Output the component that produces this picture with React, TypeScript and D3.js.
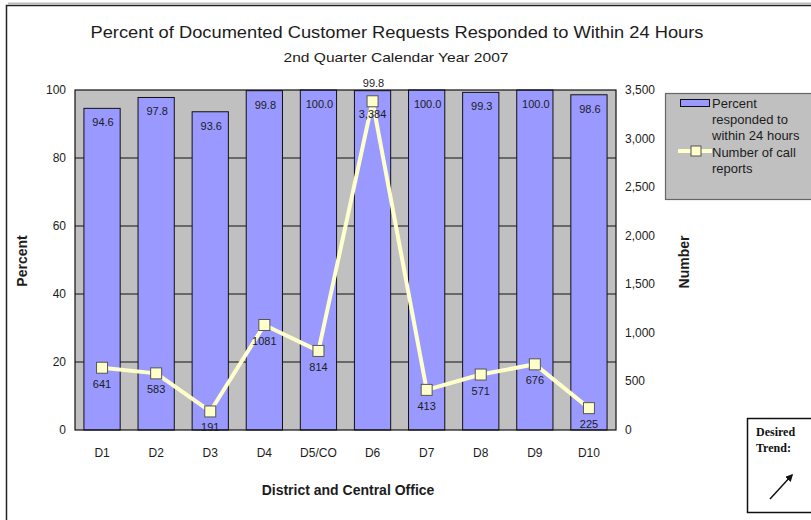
import * as d3 from 'd3';

const districts = ['D1', 'D2', 'D3', 'D4', 'D5/CO', 'D6', 'D7', 'D8', 'D9', 'D10'];
const percentResponded = [94.6, 97.8, 93.6, 99.8, 100.0, 99.8, 100.0, 99.3, 100.0, 98.6];
const callReports = [641, 583, 191, 1081, 814, 3384, 413, 571, 676, 225];
const callLabels = ['641', '583', '191', '1081', '814', '3,384', '413', '571', '676', '225'];
const percentTicks = [0, 20, 40, 60, 80, 100];
const numberTicks = [0, 500, 1000, 1500, 2000, 2500, 3000, 3500];

const W = 811;
const H = 520;
const plot = { left: 75, right: 616, top: 90, bottom: 430 };
const font = '"Liberation Sans", Arial, sans-serif';
const ink = '#1c1c1c';

export default function App() {
  const x = d3.scaleBand<string>()
    .domain(districts)
    .range([plot.left, plot.right])
    .paddingInner(0.33)
    .paddingOuter(0.165);
  const yPct = d3.scaleLinear().domain([0, 100]).range([plot.bottom, plot.top]);
  const yNum = d3.scaleLinear().domain([0, 3500]).range([plot.bottom, plot.top]);
  const cx = (d: string) => (x(d) ?? 0) + x.bandwidth() / 2;

  const line = d3.line<number>()
    .x((_, i) => cx(districts[i]))
    .y((v) => yNum(v));

  const fmt = d3.format(',');

  return (
    <svg width={W} height={H} style={{ display: 'block', position: 'absolute', left: 0, top: 0 }}>
      <rect x={0} y={0} width={W} height={H} fill="#ffffff" />
      {/* outer frame */}
      <rect x={6.5} y={5.5} width={W + 20} height={H + 20} fill="none" stroke="#222" strokeWidth={1.5} />
      <line x1={8} y1={3.5} x2={W} y2={3.5} stroke="#bbb" strokeWidth={2} />

      {/* titles */}
      <text x={397} y={38} textAnchor="middle" fontFamily={font} fontSize={17} fill={ink}
        textLength={613} lengthAdjust="spacingAndGlyphs">
        Percent of Documented Customer Requests Responded to Within 24 Hours
      </text>
      <text x={396} y={62} textAnchor="middle" fontFamily={font} fontSize={13} fill={ink}
        textLength={225} lengthAdjust="spacingAndGlyphs">
        2nd Quarter Calendar Year 2007
      </text>

      {/* plot area */}
      <rect x={plot.left} y={plot.top} width={plot.right - plot.left} height={plot.bottom - plot.top}
        fill="#c0c0c0" />
      {percentTicks.slice(1, -1).map((t) => (
        <line key={t} x1={plot.left} x2={plot.right} y1={yPct(t)} y2={yPct(t)} stroke="#111" strokeWidth={1} />
      ))}

      {/* bars */}
      {districts.map((d, i) => (
        <rect key={d} x={x(d)} y={yPct(percentResponded[i])} width={x.bandwidth()}
          height={plot.bottom - yPct(percentResponded[i])} fill="#9999ff" stroke="#111" strokeWidth={1} />
      ))}
      <rect x={plot.left} y={plot.top} width={plot.right - plot.left} height={plot.bottom - plot.top}
        fill="none" stroke="#111" strokeWidth={1.2} />

      {/* bar labels */}
      {districts.map((d, i) => {
        const above = i === 5;
        return (
          <text key={d} x={cx(d) + 1} y={above ? yPct(percentResponded[i]) - 4 : yPct(percentResponded[i]) + 18}
            textAnchor="middle" fontFamily={font} fontSize={11} fill={ink}>
            {percentResponded[i].toFixed(1)}
          </text>
        );
      })}

      {/* call report line */}
      <path d={line(callReports) ?? ''} fill="none" stroke="#ffffcc" strokeWidth={4} strokeLinejoin="round" />
      {districts.map((d, i) => (
        <rect key={d} x={cx(d) - 5.5} y={yNum(callReports[i]) - 5.5} width={11} height={11}
          fill="#ffffcc" stroke="#555" strokeWidth={1} />
      ))}
      {districts.map((d, i) => (
        <text key={d} x={cx(d)} y={yNum(callReports[i]) + (i === 5 ? 17 : 20)} textAnchor="middle"
          fontFamily={font} fontSize={11} fill={ink}>
          {callLabels[i]}
        </text>
      ))}

      {/* left axis */}
      {percentTicks.map((t) => (
        <text key={t} x={66} y={yPct(t) + 4} textAnchor="end" fontFamily={font} fontSize={12} fill={ink}>
          {t}
        </text>
      ))}
      <text transform={`translate(27,261) rotate(-90)`} textAnchor="middle" fontFamily={font}
        fontSize={14} fontWeight="bold" fill={ink}>
        Percent
      </text>

      {/* right axis */}
      {numberTicks.map((t) => (
        <text key={t} x={625} y={yNum(t) + 4} textAnchor="start" fontFamily={font} fontSize={12} fill={ink}>
          {fmt(t)}
        </text>
      ))}
      <text transform={`translate(689,262) rotate(-90)`} textAnchor="middle" fontFamily={font}
        fontSize={14} fontWeight="bold" fill={ink}>
        Number
      </text>

      {/* x axis */}
      {districts.map((d) => (
        <text key={d} x={cx(d)} y={457} textAnchor="middle" fontFamily={font} fontSize={12} fill={ink}>
          {d}
        </text>
      ))}
      <text x={348} y={495} textAnchor="middle" fontFamily={font} fontSize={14} fontWeight="bold" fill={ink}>
        District and Central Office
      </text>

      {/* legend */}
      <rect x={665.5} y={93.5} width={150} height={106} fill="#c0c0c0" stroke="#666" strokeWidth={1.2} />
      <rect x={680.5} y={99.5} width={29} height={7} fill="#9999ff" stroke="#111" strokeWidth={1} />
      <g fontFamily={font} fontSize={13} fill={ink}>
        <text x={712} y={108}>Percent</text>
        <text x={712} y={124}>responded to</text>
        <text x={712} y={140}>within 24 hours</text>
        <text x={712} y={157}>Number of call</text>
        <text x={712} y={173}>reports</text>
      </g>
      <line x1={678} x2={712} y1={151} y2={151} stroke="#ffffcc" strokeWidth={4} />
      <rect x={691} y={146} width={10} height={10} fill="#ffffcc" stroke="#555" strokeWidth={1} />

      {/* desired trend box */}
      <rect x={747.5} y={418.5} width={70} height={94} fill="#fff" stroke="#111" strokeWidth={1.5} />
      <g fontFamily='"Liberation Serif", "Times New Roman", serif' fontSize={12} fontWeight="bold" fill="#111">
        <text x={756} y={436}>Desired</text>
        <text x={756} y={452}>Trend:</text>
      </g>
      <defs>
        <marker id="arrowhead" viewBox="0 0 10 10" refX={8} refY={5} markerWidth={5} markerHeight={5} orient="auto">
          <path d="M0,0 L10,5 L0,10 Z" fill="#111" />
        </marker>
      </defs>
      <line x1={770} y1={499} x2={792} y2={475} stroke="#111" strokeWidth={1.5} markerEnd="url(#arrowhead)" />
    </svg>
  );
}
